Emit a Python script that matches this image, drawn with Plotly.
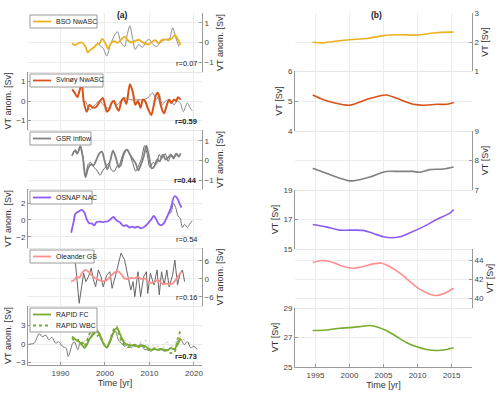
import plotly.graph_objects as go

# ---------------- (a) transport anomalies [Sv] ----------------
bso_x = [1992.6, 1993.3, 1994.1, 1994.8, 1995.6, 1996.1, 1996.8, 1997.6, 1998.1, 1998.7, 1999.4,
         2000.1, 2000.7, 2001.3, 2002.1, 2002.8, 2003.7, 2004.4, 2005.2, 2005.9, 2006.7, 2007.6,
         2008.3, 2009.0, 2009.8, 2010.5, 2011.3, 2012.0, 2012.7, 2013.5, 2014.2, 2015.0, 2015.7,
         2016.4, 2017.0]
bso_y = [-0.05, -0.13, -0.02, 0.0, -0.2, -0.5, -0.36, -0.23, -0.1, -0.05, 0.18,
         -0.05, -0.32, -0.05, 0.07, -0.02, 0.16, 0.3, 0.09, 0.0, 0.07, 0.14,
         0.04, -0.05, -0.1, 0.04, 0.12, -0.05, 0.12, 0.16, 0.12, 0.2, 0.37,
         0.16, -0.13]
bso_ref_x = [1998.2, 1998.9, 1999.6, 2000.4, 2001.1, 2002.0, 2002.8, 2003.6, 2004.4, 2005.0, 2005.6,
             2006.2, 2006.8, 2007.6, 2008.4, 2009.4, 2010.0, 2010.8, 2011.6, 2012.5, 2013.5, 2014.5,
             2015.2, 2015.9, 2016.6]
bso_ref_y = [0.0, -0.15, -0.3, -0.68, -0.2, 0.3, 0.55, 0.0, -0.2, 0.4, 0.85,
             0.2, -0.35, -0.1, -0.25, 0.1, 0.15, -0.1, -0.2, 0.0, 0.15, 0.2,
             0.75, 0.25, -0.2]

svi_x = [1992.6, 1993.2, 1993.8, 1994.3, 1994.8, 1995.2, 1995.9, 1996.5, 1997.2, 1997.9, 1998.9,
         1999.5, 2000.0, 2000.4, 2000.9, 2001.5, 2002.0, 2002.6, 2003.1, 2003.7, 2004.2, 2004.8,
         2005.6, 2006.3, 2006.8, 2007.4, 2008.0, 2008.5, 2009.0, 2009.6, 2010.4, 2010.9, 2011.5,
         2011.9, 2012.4, 2013.0, 2013.3, 2013.9, 2014.4, 2014.9, 2015.5, 2016.0, 2016.4, 2017.0]
svi_y = [0.6, 0.42, 0.2, 0.55, 0.86, 0.0, -0.55, -0.2, -0.33, -0.33, 0.0,
         0.16, -0.2, -0.55, -0.45, -0.1, 0.0, -0.33, -0.5, 0.0, 0.16, -0.15,
         0.86, 0.42, -0.2, 0.0, -0.35, 0.07, 0.0, -0.37, -0.72, -0.3, 0.33,
         0.42, -0.1, -0.55, -0.63, -0.2, 0.07, -0.1, 0.07, 0.0, 0.19, 0.07]
svi_ref_x = [1995.6, 1996.7, 1997.7, 1998.8, 1999.9, 2000.9, 2001.7, 2002.8, 2003.5, 2004.2, 2005.7,
             2007.4, 2008.5, 2009.6, 2010.7, 2011.5, 2012.2, 2012.9, 2013.6, 2014.6, 2015.5, 2016.2,
             2016.9, 2017.6, 2018.5, 2019.1, 2019.6]
svi_ref_y = [0.0, -0.45, -0.2, 0.0, -0.28, -0.37, 0.0, -0.18, 0.0, 0.16, 0.07,
             0.07, 0.07, 0.16, 0.42, 0.07, 0.33, -0.2, 0.0, 0.07, -0.2, 0.0,
             -0.1, -0.55, -0.1, -0.35, -0.5]

gsr_x = [1992.6, 1993.2, 1993.8, 1994.4, 1995.0, 1995.6, 1996.2, 1996.8, 1997.4, 1998.0, 1998.7,
         1999.3, 1999.9, 2000.5, 2001.2, 2001.8, 2002.5, 2003.1, 2003.8, 2004.4, 2005.0, 2005.6,
         2006.2, 2006.9, 2007.5, 2008.1, 2008.7, 2009.3, 2009.9, 2010.5, 2011.1, 2011.7, 2012.3,
         2013.0, 2013.6, 2014.2, 2014.8, 2015.4, 2016.0, 2016.6, 2017.0]
gsr_y = [0.25, 0.5, 0.35, 0.7, 0.2, -0.85, -0.4, -0.2, -0.25, 0.0, 0.35,
         0.45, 0.0, -0.45, 0.0, 0.5, 0.1, -0.35, 0.1, 0.45, 0.55, 0.3,
         0.1, -0.15, -0.5, -0.2, 0.2, 0.75, 0.2, -0.4, -0.3, 0.05, -0.05,
         0.3, 0.05, 0.15, 0.3, 0.1, 0.35, 0.2, 0.37]
gsr_ref_x = [1992.6, 1993.3, 1993.9, 1994.5, 1995.1, 1995.6, 1996.2, 1996.8, 1997.5, 1998.2, 1998.9,
             1999.5, 2000.1, 2000.8, 2001.5, 2002.1, 2002.8, 2003.5, 2004.2, 2004.9, 2005.5, 2006.2,
             2006.9, 2007.5, 2008.2, 2008.9, 2009.5, 2010.1, 2010.8, 2011.5, 2012.2, 2012.8, 2013.5,
             2014.2, 2014.9, 2015.5, 2016.2]
gsr_ref_y = [0.25, 0.55, 0.4, 0.75, 0.1, -0.8, -0.2, -0.1, -0.35, -0.5, -0.75,
             -0.5, -0.35, -0.15, -0.5, -0.55, -0.25, -0.3, 0.25, 0.55, 0.35, -0.1,
             -0.55, -0.3, 0.1, 0.75, 0.3, -0.35, -0.1, -0.2, 0.3, 0.1, 0.35,
             -0.05, 0.3, 0.15, 0.35]

osnap_x = [1992.4, 1993.0, 1993.3, 1993.9, 1994.8, 1995.4, 1995.9, 1996.5, 1997.0, 1997.6, 1998.1,
           1998.9, 1999.4, 2000.0, 2000.7, 2001.9, 2002.6, 2003.4, 2004.1, 2004.8, 2005.6, 2006.1,
           2006.7, 2007.4, 2008.1, 2008.9, 2009.6, 2010.4, 2011.0, 2011.5, 2012.0, 2012.6, 2013.2,
           2013.7, 2014.2, 2014.8, 2015.6, 2016.2, 2016.7, 2017.2]
osnap_y = [-1.5, -0.1, 0.67, 0.94, 1.18, 0.86, 0.08, -0.4, -0.4, -0.63, -0.24,
           -0.2, -0.25, -0.2, -0.15, 0.35, -0.05, -0.3, -0.7, -0.62, -0.9, -0.78,
           -0.9, -0.78, -1.0, -0.78, -0.43, 0.08, 0.47, 0.08, -0.43, -0.63, -0.4,
           0.08, 0.67, 1.4, 2.8, 2.6, 2.0, 1.45]
osnap_ref_x = [2014.1, 2014.8, 2015.4, 2015.9, 2016.4, 2016.9, 2017.4, 2017.9, 2018.5, 2019.0, 2019.6]
osnap_ref_y = [0.67, 0.86, 1.96, 1.45, 0.47, 0.2, -0.9, -0.5, -0.9, -0.5, -0.1]

ole_x = [1992.4, 1993.1, 1993.7, 1994.2, 1994.8, 1995.6, 1996.3, 1997.1, 1997.8, 1998.5, 1999.3,
         2000.0, 2000.7, 2001.5, 2002.2, 2003.0, 2003.7, 2004.4, 2005.2, 2005.9, 2006.7, 2007.4,
         2008.1, 2008.9, 2009.6, 2010.4, 2011.1, 2011.9, 2012.2, 2013.0, 2013.7, 2014.4, 2015.2,
         2015.9, 2016.6, 2017.2]
ole_y = [-0.9, -0.3, 0.8, 0.4, 1.9, 3.0, 2.4, 1.1, 0.2, -0.3, -0.7,
         -0.7, 0.0, 1.3, 2.2, 2.4, 1.5, 0.2, 0.0, 0.4, 0.2, 0.8,
         0.0, 0.2, -0.7, -1.4, -1.1, -0.3, -0.6, -1.8, -1.5, -1.8, -1.5,
         -0.3, 1.3, 2.4]
ole_ref_x = [1993.3, 1994.2, 1995.2, 1995.7, 1996.3, 1996.9, 1997.4, 1997.9, 1998.5, 1999.1, 1999.6,
             2000.4, 2001.1, 2001.6, 2002.4, 2003.6, 2004.4, 2005.2, 2005.8, 2006.3, 2006.7, 2007.4,
             2008.0, 2008.7, 2009.3, 2009.6, 2010.2, 2011.0, 2011.7, 2012.2, 2012.7, 2013.3, 2013.9,
             2014.4, 2015.2, 2015.7, 2016.3, 2016.9, 2017.4, 2017.9]
ole_ref_y = [6.3, -8.1, 1.9, -0.9, 0.8, 3.6, -0.3, -2.6, 3.0, 0.8, -2.6,
             1.3, 2.4, -3.1, 1.3, 8.6, 6.3, 0.2, -3.7, -0.9, -5.9, 2.4,
             -5.9, 0.8, 2.4, -4.8, 1.9, -2.0, 3.0, -5.3, 2.4, -2.0, 3.0,
             -2.6, 1.3, 6.3, -2.0, 1.9, 3.0, -0.9]

rapid_fc_x = [1992.6, 1993.3, 1994.1, 1994.8, 1995.4, 1995.9, 1996.4, 1997.0, 1997.6, 1998.1, 1998.7,
              1999.3, 1999.9, 2000.4, 2000.9, 2001.5, 2002.2, 2002.7, 2003.3, 2003.9, 2004.4, 2005.2,
              2005.9, 2006.7, 2007.4, 2008.1, 2008.9, 2009.6, 2010.4, 2011.1, 2011.9, 2012.6, 2013.3,
              2014.1, 2014.8, 2015.6, 2016.3, 2017.0]
rapid_fc_y = [1.25, 0.8, 0.43, -0.1, -0.65, -0.1, 0.7, 1.25, 1.8, 2.05, 1.7,
              0.7, -0.27, -0.5, 0.16, 1.25, 2.3, 2.6, 1.8, 0.8, 0.16, -0.1,
              -0.2, -0.1, -0.4, -0.27, -0.27, -0.65, -0.9, -0.8, -0.9, -0.8, -0.9,
              -1.0, -0.65, -0.8, -0.1, 0.97]
rapid_wbc_x = [1992.6, 1993.3, 1994.1, 1994.8, 1995.4, 1995.9, 1996.4, 1997.0, 1997.6, 1998.1, 1998.7,
               1999.3, 1999.9, 2000.4, 2000.9, 2001.5, 2002.1, 2002.6, 2003.2, 2003.9, 2004.4, 2005.2,
               2005.9, 2006.7, 2007.4, 2008.1, 2008.9, 2009.6, 2010.4, 2011.1, 2011.9, 2012.6, 2013.3,
               2014.1, 2014.8, 2015.6, 2016.3, 2016.9, 2017.2]
rapid_wbc_y = [1.0, 0.43, 0.7, 0.27, -0.4, 0.43, 1.5, 2.05, 1.7, 1.25, 1.5,
               0.6, -0.1, -0.65, 0.05, 1.5, 2.6, 2.85, 1.5, 0.27, -0.1, -0.5,
               -0.4, -0.27, -0.65, -0.1, -0.5, -0.9, -1.0, -0.65, -0.9, -0.8, -0.9,
               -1.2, -1.45, -1.35, 0.7, 2.05, 2.3]
rapid_ref_x = [1983.0, 1984.1, 1985.2, 1985.9, 1986.7, 1987.4, 1988.1, 1988.9, 1989.6, 1990.4, 1991.3,
               1991.7, 1992.2, 1992.6, 1993.1, 1993.9, 1994.4, 1995.2, 1995.8, 1996.5, 1997.3, 1997.8,
               1998.4, 1999.0, 1999.8, 2000.4, 2001.1, 2001.9, 2002.4, 2003.0, 2003.7, 2004.4, 2005.2,
               2005.9, 2006.7, 2007.4, 2008.1, 2008.9, 2009.6, 2010.4, 2011.1, 2011.9, 2012.6, 2013.3,
               2014.1, 2014.8, 2015.6, 2016.3, 2017.0, 2017.8, 2018.5, 2019.3, 2020.0, 2020.7]
rapid_ref_y = [0.0, 0.15, 1.7, 1.2, 1.45, 0.7, 1.1, 0.15, 0.4, -0.35, -0.7,
               -2.0, -1.15, -0.1, 0.4, -0.9, 0.15, 0.15, -0.25, 0.7, 2.0, 2.5,
               2.2, 0.9, -0.1, -0.6, 0.15, 1.7, 2.1, 0.7, 0.15, -0.35, -0.1,
               -0.6, -0.1, -0.35, 0.05, -0.9, -0.9, -1.15, -0.8, -1.0, -0.9, -1.15,
               -0.9, -0.6, -0.9, 0.4, 0.9, -0.1, 0.4, -0.6, -0.35, -0.9]
rapid_wbc_ref_x = [1993, 1994, 1995, 1996, 1997, 1998, 1999, 2000, 2001, 2002, 2003, 2004, 2005, 2006,
                   2007, 2008, 2009, 2010, 2011, 2012, 2013, 2014, 2015, 2016, 2017, 2018, 2019, 2020]
rapid_wbc_ref_y = [0.3, -0.3, 0.2, 0.9, 2.2, 2.6, 1.6, -0.2, 0.3, 1.9, 2.3, 0.7, 0.5, 0.0,
                   -0.1, 0.3, 0.7, -0.6, -0.1, -0.4, -0.6, 0.3, -0.3, 0.4, 1.2, 0.5, 0.1, -0.4]

r_labels = ["r=0.07", "r=0.59", "r=0.44", "r=0.54", "r=0.16", "r=0.73"]
r_bold = [False, True, True, False, False, True]

# ---------------- (b) mean transport [Sv] ----------------
b_bso_x = [1994.6, 1996.1, 1997.6, 2000.0, 2002.5, 2005.0, 2007.4, 2009.9, 2012.3, 2014.8, 2015.3]
b_bso_y = [1.99, 1.97, 2.02, 2.08, 2.12, 2.22, 2.25, 2.24, 2.31, 2.34, 2.34]
b_svi_x = [1994.6, 1996.1, 1997.6, 2000.0, 2002.5, 2004.2, 2005.4, 2007.4, 2009.4, 2010.8, 2012.8, 2014.3, 2015.3]
b_svi_y = [5.2, 5.05, 4.95, 4.86, 5.05, 5.16, 5.2, 5.05, 4.89, 4.86, 4.89, 4.89, 4.95]
b_gsr_x = [1994.6, 1996.6, 1998.6, 2000.0, 2001.5, 2003.0, 2004.5, 2005.4, 2007.4, 2009.4, 2010.3, 2011.8, 2013.8, 2015.3]
b_gsr_y = [7.74, 7.57, 7.40, 7.31, 7.35, 7.44, 7.57, 7.63, 7.63, 7.63, 7.60, 7.69, 7.71, 7.78]
b_osnap_x = [1994.6, 1996.6, 1998.6, 2000.0, 2002.0, 2003.5, 2005.0, 2006.2, 2007.4, 2008.9, 2010.8, 2012.8, 2014.8, 2015.3]
b_osnap_y = [16.66, 16.5, 16.28, 16.28, 16.26, 16.05, 15.83, 15.76, 15.83, 16.1, 16.5, 17.0, 17.45, 17.68]
b_ole_x = [1994.6, 1996.1, 1997.6, 1999.1, 2000.5, 2002.0, 2003.5, 2004.7, 2005.9, 2007.4, 2008.9, 2010.3, 2011.8, 2012.8, 2014.0, 2015.3]
b_ole_y = [43.74, 43.95, 43.74, 43.32, 43.15, 43.32, 43.6, 43.67, 43.32, 42.63, 41.76, 40.96, 40.43, 40.3, 40.54, 41.06]
b_rapid_x = [1994.6, 1996.6, 1998.6, 2000.0, 2001.5, 2003.0, 2004.2, 2005.4, 2006.9, 2008.4, 2009.9, 2011.3, 2012.8, 2014.3, 2015.3]
b_rapid_y = [27.47, 27.51, 27.63, 27.67, 27.74, 27.81, 27.7, 27.47, 27.07, 26.65, 26.37, 26.19, 26.12, 26.19, 26.3]

legend_names = [["BSO NwASC"], ["Svinøy NwASC"], ["GSR inflow"], ["OSNAP NAC"], ["Oleander GS"],
                ["RAPID FC", "RAPID WBC"]]
colors = ["#EDB120", "#D95319", "#808080", "#8B5CF6", "#FF8F8F", "#77AC30"]

W, H = 500, 395
FONT = "Liberation Sans, Arial, sans-serif"
GRID = "#ececec"
AXC = "#9a9a9a"
LEFT_DOM = [28 / W, 202 / W]
RIGHT_DOM = [295 / W, 472 / W]
LEFT_ROWS = [13, 72, 130, 189, 248, 306, 365]
RIGHT_ROWS = [13, 71, 131, 190, 249, 308, 367]
LEG_W = [67, 73, 61, 62, 64, 67]


def ydom(rows, i):
    return [1 - rows[i + 1] / H, 1 - rows[i] / H]


def ax_name(k):
    return "" if k == 1 else str(k)


fig = go.Figure()


def line(k, x, y, color, width, dash="solid", shape="spline"):
    fig.add_trace(go.Scatter(
        x=x, y=y, mode="lines",
        line=dict(color=color, width=width, dash=dash, shape=shape, smoothing=0.8),
        xaxis="x" + ax_name(k), yaxis="y" + ax_name(k),
        showlegend=False, hoverinfo="skip"))


# (a) panels
line(1, bso_ref_x, bso_ref_y, "#8c8c8c", 1)
line(1, bso_x, bso_y, colors[0], 1.8)
line(2, svi_ref_x, svi_ref_y, "#8c8c8c", 1)
line(2, svi_x, svi_y, colors[1], 2)
line(3, gsr_ref_x, gsr_ref_y, "#666666", 1)
line(3, gsr_x, gsr_y, colors[2], 1.8)
line(4, osnap_ref_x, osnap_ref_y, "#777777", 1)
line(4, osnap_x, osnap_y, colors[3], 1.8)
line(5, ole_ref_x, ole_ref_y, "#666666", 1, shape="linear")
line(5, ole_x, ole_y, colors[4], 1.8)
line(6, rapid_wbc_ref_x, rapid_wbc_ref_y, "#c4c4c4", 1, dash="dot")
line(6, rapid_ref_x, rapid_ref_y, "#777777", 1)
line(6, rapid_fc_x, rapid_fc_y, colors[5], 1.8)
line(6, rapid_wbc_x, rapid_wbc_y, colors[5], 1.8, dash="dot")

# (b) panels
b_data = [(b_bso_x, b_bso_y), (b_svi_x, b_svi_y), (b_gsr_x, b_gsr_y),
          (b_osnap_x, b_osnap_y), (b_ole_x, b_ole_y), (b_rapid_x, b_rapid_y)]
for i, (bx, by) in enumerate(b_data):
    line(7 + i, bx, by, colors[i], 1.6)

tickfont = dict(family=FONT, size=8, color="#444")
titlefont = dict(family=FONT, size=9, color="#333")

a_ranges = [[-1.5, 1.5], [-1.5, 1.5], [-1.45, 1.55], [-3.3, 3.65], [-9, 10.3], [-3.4, 6.2]]
a_ticks = [[-1, 0, 1], [-1, 0, 1], [-1, 0, 1], [-2, 0, 2], [-6, 0, 6], [-3, 0, 3]]
b_ranges = [[1, 3], [4, 6], [7, 9], [15, 19], [39, 45.15], [25, 29]]
b_ticks = [[1, 2, 3], [4, 5, 6], [7, 8, 9], [15, 17, 19], [40, 42, 44], [25, 27, 29]]

layout = {}
annotations = []
shapes = []
for col in range(2):
    for i in range(6):
        k = col * 6 + i + 1
        n = ax_name(k)
        bottom = i == 5
        side = "right" if i % 2 == 0 else "left"
        if col == 0:
            xdom, xr, xt = LEFT_DOM, [1982.7, 2021.8], [1990, 2000, 2010, 2020]
            yd, yr, yt, ytitle = ydom(LEFT_ROWS, i), a_ranges[i], a_ticks[i], "VT anom. [Sv]"
        else:
            xdom, xr, xt = RIGHT_DOM, [1992, 2018], [1995, 2000, 2005, 2010, 2015]
            yd, yr, yt, ytitle = ydom(RIGHT_ROWS, i), b_ranges[i], b_ticks[i], "VT [Sv]"
        layout["xaxis" + n] = dict(
            domain=xdom, range=xr, tickvals=xt, anchor="y" + n, automargin=False,
            showgrid=True, gridcolor=GRID, gridwidth=1, zeroline=False,
            showline=True, linecolor=AXC if bottom else "#e6e6e6", linewidth=1,
            ticks="inside" if bottom else "", ticklen=3, tickcolor=AXC,
            showticklabels=bottom, tickfont=tickfont,
            title=dict(text="Time [yr]" if bottom else "", font=titlefont, standoff=3))
        layout["yaxis" + n] = dict(
            domain=yd, range=yr, tickvals=yt, anchor="x" + n, side=side, automargin=False,
            showgrid=True, gridcolor=GRID, gridwidth=1, zeroline=False,
            showline=True, linecolor=AXC, linewidth=1,
            ticks="inside", ticklen=3, tickcolor=AXC, tickfont=tickfont,
            title=dict(text=ytitle, font=titlefont, standoff=3))
        if col == 0:
            txt = "<b>%s</b>" % r_labels[i] if r_bold[i] else r_labels[i]
            annotations.append(dict(
                text=txt, xref="x%s domain" % n, yref="y%s domain" % n,
                x=0.985, y=0.15, xanchor="right", yanchor="middle", showarrow=False,
                font=dict(family=FONT, size=7.5, color="#222")))
            # legend box drawn by hand (short line samples like the original)
            top = LEFT_ROWS[i] + 2
            rows = len(legend_names[i])
            shapes.append(dict(type="rect", xref="paper", yref="paper", layer="above",
                               x0=30 / W, x1=(30 + LEG_W[i]) / W,
                               y0=1 - (top + 11 * rows + 2) / H, y1=1 - top / H,
                               fillcolor="white", line=dict(color="#9a9a9a", width=1)))
            for j, nm in enumerate(legend_names[i]):
                yc = 1 - (top + 6.5 + 11 * j) / H
                shapes.append(dict(type="line", xref="paper", yref="paper", layer="above",
                                   x0=33 / W, x1=51 / W, y0=yc, y1=yc,
                                   line=dict(color=colors[i], width=1.8,
                                             dash="dot" if j == 1 else "solid")))
                annotations.append(dict(text=nm, xref="paper", yref="paper", x=54 / W, y=yc,
                                        xanchor="left", yanchor="middle", showarrow=False,
                                        font=dict(family=FONT, size=7, color="#222")))

annotations.append(dict(text="<b>(a)</b>", xref="paper", yref="paper", x=115 / W, y=1 - 8 / H,
                        showarrow=False, font=dict(family=FONT, size=8.5, color="#222")))
annotations.append(dict(text="<b>(b)</b>", xref="paper", yref="paper", x=384 / W, y=1 - 8 / H,
                        showarrow=False, font=dict(family=FONT, size=8.5, color="#222")))

fig.update_layout(
    width=W, height=H, margin=dict(l=0, r=0, t=0, b=0),
    paper_bgcolor="white", plot_bgcolor="white", showlegend=False,
    annotations=annotations, shapes=shapes, **layout)

# drop the browser's default page margin so the figure sits at the window corner
fig.write_html("out.html", config={"displayModeBar": False},
               post_script="document.body.style.margin = '0';")
